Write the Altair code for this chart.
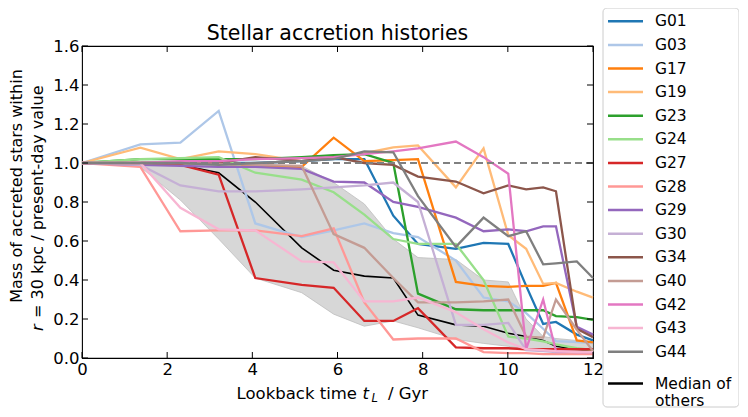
import altair as alt
import pandas as pd

# ---------------- data ----------------
T = [0, 1.37, 2.31, 3.21, 4.07, 5.16, 5.91, 6.63, 7.31, 7.89, 8.78, 9.43, 10.01, 10.43, 10.83, 11.13, 11.62, 12.0]

NAMES = ["G01", "G03", "G17", "G19", "G23", "G24", "G27", "G28",
         "G29", "G30", "G34", "G40", "G42", "G43", "G44"]
COLORS = ["#1f77b4", "#aec7e8", "#ff7f0e", "#ffbb78", "#2ca02c", "#98df8a",
          "#d62728", "#ff9896", "#9467bd", "#c5b0d5", "#8c564b", "#c49c94",
          "#e377c2", "#f7b6d2", "#7f7f7f"]

G01 = [1.0, 1.0, 1.0, 1.0, 1.0, 1.01, 1.02, 1.02, 0.73, 0.585, 0.56, 0.59, 0.585, 0.37, 0.175, 0.185, 0.12, 0.09]
G03 = [1.0, 1.096, 1.105, 1.267, 0.69, 0.62, 0.655, 0.69, 0.64, 0.62, 0.5, 0.31, 0.29, 0.23, 0.15, 0.087, 0.082, 0.077]
G17 = [1.0, 1.0, 1.0, 1.0, 0.985, 0.98, 1.13, 1.01, 1.015, 1.02, 0.39, 0.37, 0.365, 0.37, 0.37, 0.385, 0.09, 0.08]
G19 = [1.0, 1.079, 1.02, 1.06, 1.045, 1.01, 1.03, 1.05, 1.08, 1.09, 0.875, 1.075, 0.63, 0.56, 0.38, 0.385, 0.34, 0.31]
G23 = [1.0, 1.02, 1.02, 1.02, 1.02, 1.03, 1.04, 1.045, 1.0, 0.33, 0.25, 0.245, 0.245, 0.245, 0.245, 0.215, 0.21, 0.195]
G24 = [1.0, 1.02, 1.025, 1.03, 0.95, 0.915, 0.85, 0.735, 0.61, 0.585, 0.585, 0.4, 0.11, 0.1, 0.085, 0.07, 0.05, 0.04]
G27 = [1.0, 0.99, 0.99, 0.94, 0.41, 0.375, 0.36, 0.19, 0.19, 0.255, 0.055, 0.05, 0.05, 0.045, 0.045, 0.045, 0.045, 0.045]
G28 = [1.0, 0.98, 0.65, 0.655, 0.655, 0.625, 0.665, 0.285, 0.095, 0.1, 0.1, 0.03, 0.025, 0.025, 0.02, 0.02, 0.02, 0.02]
G29 = [1.0, 0.99, 0.985, 0.98, 0.98, 0.97, 0.905, 0.9, 0.8, 0.775, 0.72, 0.65, 0.66, 0.65, 0.675, 0.675, 0.16, 0.12]
G30 = [1.0, 0.99, 0.885, 0.855, 0.855, 0.865, 0.875, 0.885, 0.9, 0.8, 0.17, 0.17, 0.18, 0.04, 0.035, 0.03, 0.03, 0.03]
G34 = [1.0, 1.0, 1.0, 1.0, 1.03, 1.01, 1.03, 1.0, 0.99, 0.93, 0.905, 0.845, 0.885, 0.865, 0.875, 0.855, 0.15, 0.107]
G40 = [1.0, 1.0, 1.0, 0.995, 0.99, 0.985, 0.635, 0.565, 0.41, 0.285, 0.285, 0.29, 0.3, 0.11, 0.105, 0.3, 0.145, 0.035]
G42 = [1.0, 1.0, 1.01, 1.01, 1.02, 1.025, 1.03, 1.045, 1.06, 1.075, 1.11, 1.03, 0.945, 0.045, 0.3, 0.035, 0.03, 0.03]
G43 = [1.0, 1.0, 0.77, 0.66, 0.655, 0.495, 0.49, 0.29, 0.29, 0.31, 0.235, 0.148, 0.08, 0.045, 0.04, 0.035, 0.03, 0.03]
G44 = [1.0, 1.0, 1.0, 0.99, 1.0, 1.01, 1.02, 1.06, 1.055, 0.83, 0.57, 0.72, 0.625, 0.65, 0.48, 0.485, 0.495, 0.41]

MEDIAN = [1.0, 1.0, 0.99, 0.95, 0.8, 0.565, 0.45, 0.42, 0.41, 0.22, 0.17, 0.163, 0.127, 0.11, 0.09, 0.06, 0.045, 0.04]
BAND_LO = [1.0, 0.98, 0.81, 0.61, 0.41, 0.335, 0.225, 0.163, 0.19, 0.155, 0.095, 0.075, 0.06, 0.045, 0.04, 0.035, 0.03, 0.03]
BAND_HI = [1.0, 1.0, 0.995, 0.99, 0.99, 0.985, 0.9, 0.79, 0.61, 0.515, 0.505, 0.4, 0.39, 0.2, 0.11, 0.1, 0.09, 0.085]

X_TICKS = [0, 2, 4, 6, 8, 10, 12]
Y_TICKS = [0.0, 0.2, 0.4, 0.6, 0.8, 1.0, 1.2, 1.4, 1.6]
MEDIAN_NAME = "Median of others"
MEDIAN_LABEL = "Median of\nothers"

SERIES = [G01, G03, G17, G19, G23, G24, G27, G28, G29, G30, G34, G40, G42, G43, G44]

# ---------------- tables ----------------
rows = []
for name, vals in zip(NAMES, SERIES):
    for t, v in zip(T, vals):
        rows.append({"name": name, "t": t, "v": v})
lines_df = pd.DataFrame(rows)
med_df = pd.DataFrame({"t": T, "v": MEDIAN, "name": MEDIAN_NAME})
band_df = pd.DataFrame({"t": T, "lo": BAND_LO, "hi": BAND_HI})
xt_df = pd.DataFrame({"v": X_TICKS})
yt_df = pd.DataFrame({"v": Y_TICKS})
one_df = pd.DataFrame({"a": [0]})
leg_df = pd.DataFrame({"name": NAMES + [MEDIAN_NAME],
                       "label": NAMES + [MEDIAN_LABEL],
                       "idx": list(range(len(NAMES) + 1))})

W, H = 511, 312
FONT = "DejaVu Sans"

xs = alt.Scale(domain=[0, 12], nice=False, zero=False)
ys = alt.Scale(domain=[0, 1.6], nice=False, zero=False)
xaxis = alt.Axis(values=X_TICKS, title=None, format="d", labelFlush=False)
yaxis = alt.Axis(values=Y_TICKS, title=None, format=".1f", labelFlush=False)
cscale = alt.Scale(domain=NAMES + [MEDIAN_NAME], range=COLORS + ["black"])


def X(f):
    return alt.X(f, type="quantitative", scale=xs, axis=xaxis)


def Y(f):
    return alt.Y(f, type="quantitative", scale=ys, axis=yaxis)


band = alt.Chart(band_df).mark_area(
    color="#d3d3d3", opacity=0.9, stroke="#b8b8b8", strokeWidth=0.8
).encode(x=X("t"), y=Y("lo"), y2="hi")

median = alt.Chart(med_df).mark_line(strokeWidth=1.6).encode(
    x=X("t"), y=Y("v"),
    color=alt.Color("name:N", scale=cscale, legend=None))

lines = alt.Chart(lines_df).mark_line(strokeWidth=2.3).encode(
    x=X("t"), y=Y("v"),
    color=alt.Color("name:N", scale=cscale, legend=None))

dashed = alt.Chart(one_df).mark_rule(
    color="#808080", strokeWidth=1.8, strokeDash=[7, 4]
).encode(y=alt.Y(datum=1.0, type="quantitative", scale=ys, axis=yaxis))

tick_style = dict(color="black", strokeWidth=1)
xt_bottom = alt.Chart(xt_df).mark_rule(**tick_style).encode(
    x=X("v"), y=alt.value(H), y2=alt.value(H - 6))
xt_top = alt.Chart(xt_df).mark_rule(**tick_style).encode(
    x=X("v"), y=alt.value(0), y2=alt.value(6))
yt_left = alt.Chart(yt_df).mark_rule(**tick_style).encode(
    y=Y("v"), x=alt.value(0), x2=alt.value(6))
yt_right = alt.Chart(yt_df).mark_rule(**tick_style).encode(
    y=Y("v"), x=alt.value(W), x2=alt.value(W - 6))

title = alt.Chart(one_df).mark_text(
    text="Stellar accretion histories", fontSize=20.5, font=FONT,
    align="center", baseline="alphabetic", color="black"
).encode(x=alt.value(W / 2), y=alt.value(-6))

xt_a = alt.Chart(one_df).mark_text(
    text="Lookback time", fontSize=16.5, font=FONT, align="right",
    baseline="alphabetic", color="black").encode(x=alt.value(275), y=alt.value(353))
xt_b = alt.Chart(one_df).mark_text(
    text="t", fontSize=16.5, font=FONT, fontStyle="italic", align="left",
    baseline="alphabetic", color="black").encode(x=alt.value(280.5), y=alt.value(353))
xt_c = alt.Chart(one_df).mark_text(
    text="L", fontSize=11.5, font=FONT, fontStyle="italic", align="left",
    baseline="alphabetic", color="black").encode(x=alt.value(289.5), y=alt.value(356))
xt_d = alt.Chart(one_df).mark_text(
    text="/ Gyr", fontSize=16.5, font=FONT, align="left",
    baseline="alphabetic", color="black").encode(x=alt.value(306), y=alt.value(353))

yl_1 = alt.Chart(one_df).mark_text(
    text="Mass of accreted stars within", fontSize=16, font=FONT, angle=270,
    align="center", baseline="middle", color="black"
).encode(x=alt.value(-65.5), y=alt.value(140))
yl_r = alt.Chart(one_df).mark_text(
    text="r", fontSize=16, font=FONT, fontStyle="italic", angle=270,
    align="left", baseline="middle", color="black"
).encode(x=alt.value(-44), y=alt.value(285))
yl_2 = alt.Chart(one_df).mark_text(
    text="= 30 kpc / present-day value", fontSize=16, font=FONT, angle=270,
    align="left", baseline="middle", color="black"
).encode(x=alt.value(-44), y=alt.value(272))

leg_box = alt.Chart(one_df).mark_rect(
    fill="white", stroke="#cccccc", strokeWidth=1, cornerRadius=4
).encode(x=alt.value(521), x2=alt.value(657), y=alt.value(-38), y2=alt.value(361))

leg_pos = "datum.idx == 15 ? 337.5 : -24.7 + 23.6 * datum.idx"
leg_lines = alt.Chart(leg_df).transform_calculate(ly=leg_pos).mark_rule(
    strokeWidth=2.5
).encode(
    x=alt.value(526), x2=alt.value(561),
    y=alt.Y("ly:Q", scale=None, axis=None),
    color=alt.Color("name:N", scale=cscale, legend=None))
leg_text = alt.Chart(leg_df).transform_calculate(ly=leg_pos).mark_text(
    align="left", baseline="middle", fontSize=15.5, font=FONT, color="black",
    lineBreak="\n", lineHeight=17
).encode(
    x=alt.value(573),
    y=alt.Y("ly:Q", scale=None, axis=None),
    text="label:N")

chart = alt.layer(
    band, median, lines, dashed,
    xt_bottom, xt_top, yt_left, yt_right,
    title, xt_a, xt_b, xt_c, xt_d, yl_1, yl_r, yl_2,
    leg_box, leg_lines, leg_text
).properties(
    width=W, height=H,
    autosize=alt.AutoSizeParams(type="none"),
    padding={"left": 74, "top": 38, "right": 146, "bottom": 51},
).configure(font=FONT).configure_view(
    stroke="black", strokeWidth=1.1
).configure_axis(
    labelFont=FONT, labelFontSize=16.5, labelColor="black",
    ticks=False, domain=False, grid=False, labelPadding=3,
)

chart.save("out.html", embed_options={"renderer": "svg", "actions": False})
